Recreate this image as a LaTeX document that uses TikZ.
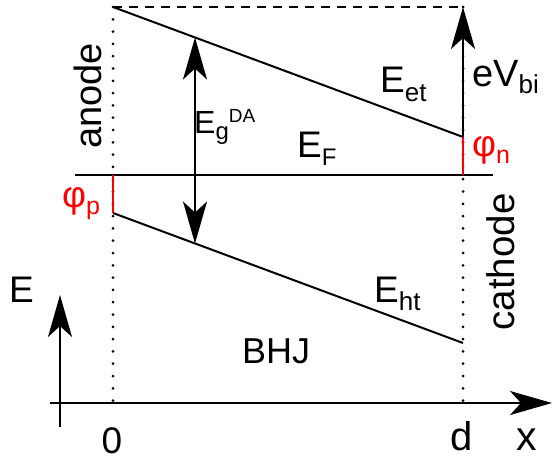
\documentclass[tikz,border=0pt]{standalone}
\usepackage{fontspec}
\setmainfont{Liberation Sans}
\usetikzlibrary{arrows.meta}
\newcommand\fsz[1]{\fontsize{#1}{#1}\selectfont}
\newcommand\subtx[3]{\raisebox{-#1pt}{\fsz{#2}#3}}
\newcommand\suptx[3]{\raisebox{#1pt}{\fsz{#2}#3}}
\begin{document}
\begin{tikzpicture}[x=1pt,y=-1pt,
  band/.style={line width=2pt},
  dotline/.style={line width=3pt, dash pattern=on 0pt off 12.3pt, line cap=round},
  dashline/.style={line width=2pt, dash pattern=on 9pt off 7pt},
  redline/.style={line width=2pt, red},
  bigarrow/.style={line width=2pt, -{Stealth[length=42pt,width=24pt,inset=11pt]}},
  dblarrow/.style={line width=2pt, {Stealth[length=42pt,width=24pt,inset=11pt]}-{Stealth[length=42pt,width=24pt,inset=11pt]}},
  lbl/.style={inner sep=0pt, anchor=base west},
  clbl/.style={inner sep=0pt, anchor=base},
]
\useasboundingbox (0,0) rectangle (553,460);
% key coordinates
\coordinate (A0) at (113,7);
\coordinate (Abot) at (113,408);
\coordinate (D0) at (463,7);
\coordinate (Dbot) at (463,410);
\coordinate (EtR) at (463,137);
\coordinate (FL) at (75,175);
\coordinate (FR) at (493,175);
\coordinate (FA) at (113,175);
\coordinate (FD) at (463,175);
\coordinate (HtL) at (113,213);
\coordinate (HtR) at (463,343);
\coordinate (GapT) at (195,37.5);
\coordinate (GapB) at (195,243.5);
\coordinate (XS) at (50,403);
\coordinate (XE) at (552,403);
\coordinate (ES) at (60,427);
\coordinate (EE) at (60,295);
% dotted electrodes
\draw[dotline] (A0) -- (Abot);
\draw[dotline] (D0) -- (Dbot);
% dashed top
\draw[dashline] (A0) -- (D0);
% bands
\draw[band] (A0) -- (EtR);
\draw[band] (FL) -- (FR);
\draw[band] (HtL) -- (HtR);
% red offsets
\draw[redline] (EtR) -- (FD);
\draw[redline] (FA) -- (HtL);
% arrows
\draw[dblarrow] (GapT) -- (GapB);
\draw[bigarrow] (EtR) -- (D0);
\draw[bigarrow] (XS) -- (XE);
\draw[bigarrow] (ES) -- (EE);
% labels
\node[lbl] (Eg) at (194,133) {\fsz{32}E\subtx{6}{24}{g}\suptx{11}{19}{DA}};
\node[lbl] (EF) at (297,157) {\fsz{37}E\subtx{8}{24}{F}};
\node[lbl] (Eet) at (380,92) {\fsz{37}E\subtx{9}{26}{et}};
\node[lbl] (eV) at (472,86) {\fsz{38}eV\subtx{7}{26}{bi}};
\node[lbl, text=red] (phin) at (472,156) {\fsz{37}φ\subtx{7}{25}{n}};
\node[lbl, text=red] (phip) at (62,207) {\fsz{37}φ\subtx{7}{25}{p}};
\node[lbl] (Elab) at (9,302) {\fsz{37}E};
\node[lbl] (BHJ) at (242,363) {\fsz{36}BHJ};
\node[lbl] (Eht) at (374,302) {\fsz{37}E\subtx{8}{26}{ht}};
\node[clbl] (zero) at (112,453) {\fsz{37}0};
\node[clbl] (dlab) at (462,450) {\fsz{40}d};
\node[clbl] (xlab) at (527,450) {\fsz{41}x};
\node[inner sep=0pt, rotate=90] (anode) at (88,96) {\fsz{38}anode};
\node[inner sep=0pt, rotate=90] (cathode) at (501,262) {\fsz{38.5}cathode};
\end{tikzpicture}
\end{document}
